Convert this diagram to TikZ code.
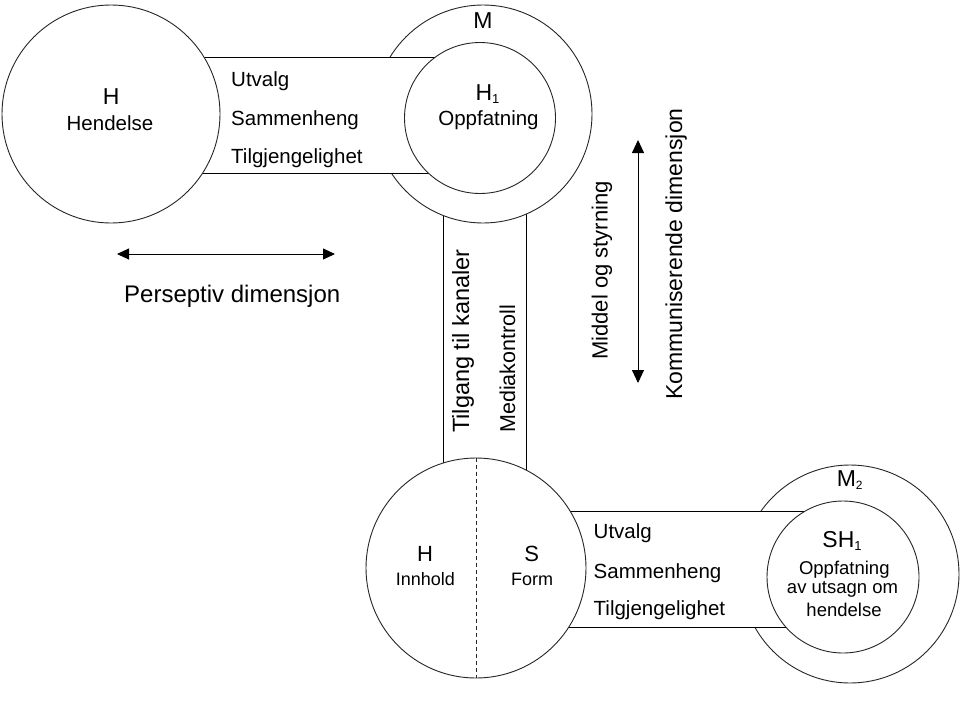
\documentclass[tikz,border=0pt]{standalone}
\usepackage{fontspec}
\setmainfont{Liberation Sans}
\usetikzlibrary{arrows.meta}
\newcommand\fsz[1]{\fontsize{#1}{#1}\selectfont}
\begin{document}
\begin{tikzpicture}[x=1pt,y=-1pt,
  ring/.style={circle,draw=black!85,line width=0.9pt,fill=white,inner sep=0pt},
  bandline/.style={draw=black,line width=0.9pt},
  lbl/.style={inner sep=0pt,font=\fsz{20.5}},
  small/.style={inner sep=0pt,font=\fsz{18.5}},
  bigl/.style={inner sep=0pt,font=\fsz{23}},
  dimarrow/.style={line width=0.9pt,{Triangle[length=12pt,width=11pt]}-{Triangle[length=12pt,width=11pt]}}]
\useasboundingbox (0,0) rectangle (960,720);
% vertical band
\fill[white] (443,150) rectangle (526,568);
\draw[bandline] (443,150) -- (443,568);
\draw[bandline] (526,150) -- (526,568);
% M outer
\node[ring,minimum size=218pt] (M) at (483,114) {};
% upper band
\fill[white] (111,57.5) rectangle (480,173.5);
\draw[bandline] (111,57.5) -- (480,57.5);
\draw[bandline] (111,173.5) -- (480,173.5);
\node[ring,minimum size=151pt] (H1) at (480,118) {};
\node[ring,minimum size=218pt] (H) at (111,114) {};
% M2 outer
\node[ring,minimum size=218pt] (M2) at (850,574) {};
% lower band
\fill[white] (476,511.5) rectangle (843,627.5);
\draw[bandline] (476,511.5) -- (843,511.5);
\draw[bandline] (476,627.5) -- (843,627.5);
\node[ring,minimum size=152pt] (SH1) at (843,577) {};
% lower circle
\node[ring,minimum size=220pt] (HS) at (476,568) {};
\draw[black!85,line width=0.8pt,dash pattern=on 4pt off 3pt] (HS.north) -- (HS.south);
% texts upper left
\node[bigl,anchor=base] (tH) at (111.3,104) {H};
\node[lbl,anchor=base] (tHend) at (110,130.7) {Hendelse};
\node[bigl,anchor=base] (tM) at (483,28.3) {M};
\node[bigl,anchor=base] (tH1) at (487.5,100.7) {H\raisebox{-3pt}{\fsz{13}1}};
\node[lbl,anchor=base] (tOpp) at (488.5,125.5) {Oppfatning};
\node[lbl,anchor=base west] (u1) at (231,86.7) {Utvalg};
\node[lbl,anchor=base west] (s1) at (231,125.7) {Sammenheng};
\node[lbl,anchor=base west] (t1) at (231,163) {Tilgjengelighet};
% vertical texts
\node[inner sep=0pt,font=\fsz{23.5},rotate=90,anchor=base west] (tTil) at (469,433) {Tilgang til kanaler};
\node[inner sep=0pt,font=\fsz{21.5},rotate=90,anchor=base west] (tMed) at (515,433) {Mediakontroll};
\node[inner sep=0pt,font=\fsz{22},rotate=90,anchor=base west] (tMid) at (607.5,360) {Middel og styrning};
\node[inner sep=0pt,font=\fsz{23},rotate=90,anchor=base west] (tKom) at (682,400) {Kommuniserende dimensjon};
% arrows
\coordinate (pa) at (117,254);
\coordinate (pb) at (335,254);
\draw[dimarrow] (pa) -- (pb);
\coordinate (ka) at (638,140);
\coordinate (kb) at (638,383);
\draw[line width=0.9pt,{Triangle[length=13pt,width=12pt]}-{Triangle[length=13pt,width=12pt]}] (ka) -- (kb);
\node[inner sep=0pt,font=\fsz{24},anchor=base west] (tPer) at (124,302) {Perseptiv dimensjon};
% lower circle texts
\node[inner sep=0pt,font=\fsz{22},anchor=base] (tH2) at (425,561.7) {H};
\node[inner sep=0pt,font=\fsz{18},anchor=base] (tInn) at (425.3,585.7) {Innhold};
\node[inner sep=0pt,font=\fsz{22},anchor=base] (tS) at (531.7,561.7) {S};
\node[inner sep=0pt,font=\fsz{18},anchor=base] (tForm) at (532,585.7) {Form};
% lower band texts
\node[lbl,anchor=base west] (u2) at (593.5,538) {Utvalg};
\node[lbl,anchor=base west] (s2) at (593.5,578) {Sammenheng};
\node[lbl,anchor=base west] (t2) at (593.5,615) {Tilgjengelighet};
% M2 / SH1 texts
\node[bigl,anchor=base] (tM2) at (849.7,486.7) {M\raisebox{-3pt}{\fsz{12}2}};
\node[bigl,anchor=base] (tSH1) at (842,547.7) {SH\raisebox{-3pt}{\fsz{13}1}};
\node[small,anchor=base] (o2) at (844.3,574.3) {Oppfatning};
\node[small,anchor=base] (a2) at (842.5,593.3) {av utsagn om};
\node[small,anchor=base] (h2) at (844,616.7) {hendelse};
\end{tikzpicture}
\end{document}
